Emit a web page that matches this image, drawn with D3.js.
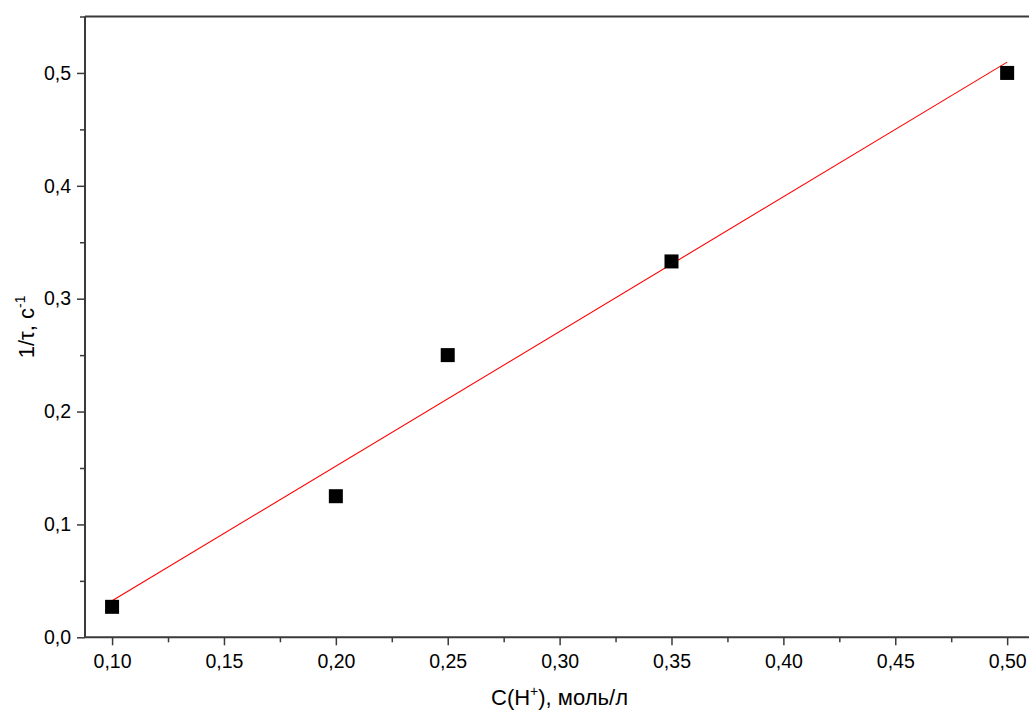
<!DOCTYPE html>
<html><head><meta charset="utf-8">
<script src="https://cdn.jsdelivr.net/npm/d3@7"></script>
<style>
body{margin:0;background:#fff;}
text{font-family:"Liberation Sans",Arial,sans-serif;fill:#000;}
</style></head>
<body>
<svg id="c" width="1029" height="711"></svg>
<script>
const xValues = [0.10, 0.20, 0.25, 0.35, 0.50];
const yValues = [0.027, 0.125, 0.25, 0.333, 0.50];
const fitX = [0.10, 0.50];
const fitY = [0.0323, 0.5096];
const xTicks = [0.10, 0.15, 0.20, 0.25, 0.30, 0.35, 0.40, 0.45, 0.50];
const yTicks = [0.0, 0.1, 0.2, 0.3, 0.4, 0.5];
const xMinor = [0.125, 0.175, 0.225, 0.275, 0.325, 0.375, 0.425, 0.475];
const yMinor = [0.05, 0.15, 0.25, 0.35, 0.45, 0.55];

const svg = d3.select("#c");
const L = 85, R = 1034, T = 16.5, B = 637.3;
const x = d3.scaleLinear().domain([0.0879, 0.512]).range([L, R]);
const y = d3.scaleLinear().domain([0, 0.55]).range([B, T]);
const fmtX = d => d3.format(".2f")(d).replace(".", ",");
const fmtY = d => d3.format(".1f")(d).replace(".", ",");
const axisColor = "#3a3a3a";

// minor ticks
const gxm = svg.append("g").attr("transform", `translate(0,${B})`)
  .call(d3.axisBottom(x).tickValues(xMinor).tickSize(5).tickFormat(""));
const gym = svg.append("g").attr("transform", `translate(${L},0)`)
  .call(d3.axisLeft(y).tickValues(yMinor).tickSize(5).tickFormat(""));
[gxm, gym].forEach(g => { g.select(".domain").remove(); g.selectAll("line").attr("stroke", axisColor).attr("stroke-width", 1.5); });

// major axes
const gx = svg.append("g").attr("transform", `translate(0,${B})`)
  .call(d3.axisBottom(x).tickValues(xTicks).tickSize(8).tickPadding(9).tickFormat(fmtX));
const gy = svg.append("g").attr("transform", `translate(${L},0)`)
  .call(d3.axisLeft(y).tickValues(yTicks).tickSize(8).tickPadding(6).tickFormat(fmtY));
[gx, gy].forEach(g => {
  g.attr("font-size", 19.5);
  g.select(".domain").attr("stroke", axisColor).attr("stroke-width", 2);
  g.selectAll(".tick line").attr("stroke", axisColor).attr("stroke-width", 1.5);
  g.selectAll("text").style("font-size", "19.5px").style("font-family", '"Liberation Sans",Arial,sans-serif').attr("fill", "#000");
});
gx.select(".domain").attr("d", `M${L},0H${R}`);
gy.select(".domain").attr("d", `M0,${B}V${T}`);

// top frame line
svg.append("line").attr("x1", L).attr("x2", R).attr("y1", T).attr("y2", T)
  .attr("stroke", axisColor).attr("stroke-width", 2);

// fit line
svg.append("line")
  .attr("x1", x(fitX[0])).attr("y1", y(fitY[0]))
  .attr("x2", x(fitX[1])).attr("y2", y(fitY[1]))
  .attr("stroke", "#ff0000").attr("stroke-width", 1.1);

// points
const s = 14;
svg.selectAll("rect.pt").data(xValues.map((v, i) => [v, yValues[i]])).enter()
  .append("rect").attr("class", "pt")
  .attr("x", d => x(d[0]) - s / 2).attr("y", d => y(d[1]) - s / 2)
  .attr("width", s).attr("height", s).attr("fill", "#000");

// x label
const xl = svg.append("text").attr("x", (L + R) / 2).attr("y", 705)
  .attr("text-anchor", "middle").style("font-size", "22px");
xl.append("tspan").text("C(H");
xl.append("tspan").text("+").attr("dy", -9).style("font-size", "14px");
xl.append("tspan").text("), моль/л").attr("dy", 9);

// y label
const yl = svg.append("text").attr("transform", `translate(34,${(T + B) / 2}) rotate(-90)`)
  .attr("text-anchor", "middle").style("font-size", "22px");
yl.append("tspan").text("1/τ, с");
yl.append("tspan").text("-1").attr("dy", -9).style("font-size", "14px");
</script>
</body></html>
